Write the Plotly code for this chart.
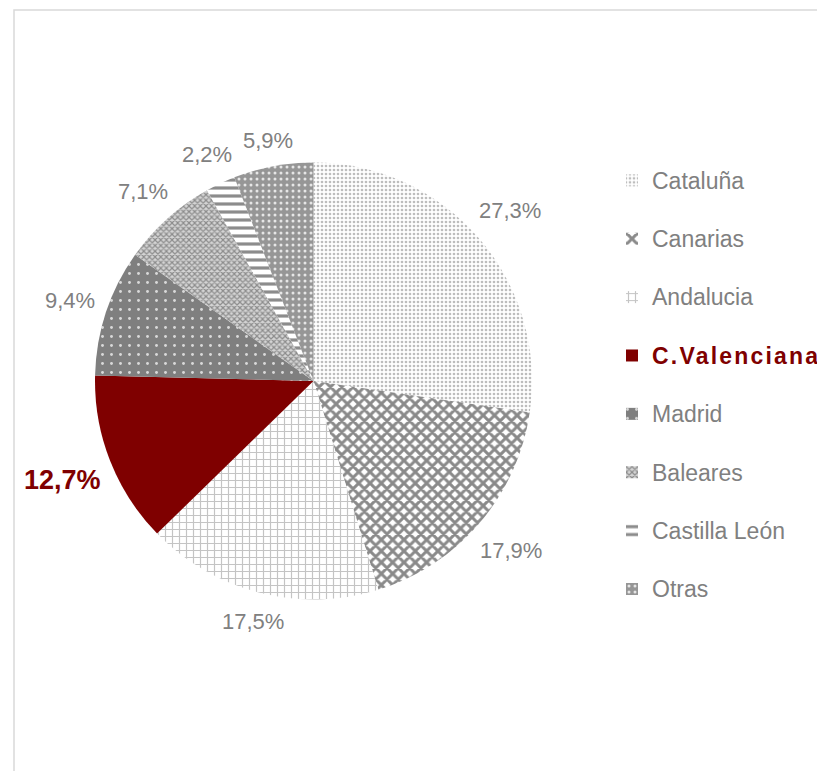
import math
import plotly.graph_objects as go

# ---- data ----
regions = ["Cataluña", "Canarias", "Andalucia", "C.Valenciana", "Madrid",
           "Baleares", "Castilla León", "Otras"]
shares = [27.3, 17.9, 17.5, 12.7, 9.4, 7.1, 2.2, 5.9]
pct_labels = ["27,3%", "17,9%", "17,5%", "12,7%", "9,4%", "7,1%", "2,2%", "5,9%"]
highlight = "C.Valenciana"

# ---- styling ----
W, H = 825, 771
OFF = 8                                   # page body margin
CX, CY, R = 313.5 - OFF, 381.0 - OFF, 218.5   # pie centre / radius in figure px
GRAY_TXT = "#808080"
RED = "#7F0000"

slice_colors = ["#ffffff", "#ffffff", "#ffffff", RED, "#7f7f7f", "#c8c8c8", "#ffffff", "#969696"]
pat_shape = [".", "x", "+", "", ".", "x", "-", "."]
pat_fg = ["#bdbdbd", "#8a8a8a", "#c4c4c4", RED, "#d9d9d9", "#8c8c8c", "#8c8c8c", "#e6e6e6"]
pat_bg = ["#ffffff", "#ffffff", "#ffffff", RED, "#7f7f7f", "#d4d4d4", "#ffffff", "#969696"]
pat_size = [4, 8, 7, 8, 9, 4, 8, 6]
pat_sol = [0.35, 0.6, 0.3, 0.3, 0.08, 0.5, 0.4, 0.2]


def legend_label(name):
    if name == highlight:
        return ("<b><span style='color:%s;font-size:23px;letter-spacing:2.2px'>%s</span></b><br>\u00a0"
                % (RED, name))
    return "<span style='font-size:23px'>%s</span><br>\u00a0" % name


fig = go.Figure()
fig.add_trace(go.Pie(
    labels=[legend_label(r) for r in regions],
    values=shares,
    sort=False,
    direction="clockwise",
    rotation=0,
    textinfo="none",
    hoverinfo="label+percent",
    marker=dict(
        colors=slice_colors,
        line=dict(width=0),
        pattern=dict(shape=pat_shape, fgcolor=pat_fg, bgcolor=pat_bg,
                     size=pat_size, solidity=pat_sol, fillmode="replace"),
    ),
    domain=dict(x=[(CX - R) / W, (CX + R) / W],
                y=[(H - CY - R) / H, (H - CY + R) / H]),
))

# percentage labels placed just outside each slice
char_w = {",": 0.278, "%": 0.889}
total = sum(shares)
cum = 0.0
annotations = []
for name, v, txt in zip(regions, shares, pct_labels):
    mid = (cum + v / 2) / total * 2 * math.pi
    cum += v
    big = name == highlight
    fs = 27 if big else 22
    w = sum(char_w.get(c, 0.556) for c in txt) * fs
    h = fs
    s, c = math.sin(mid), math.cos(mid)
    d = R + 11 + 0.5 * (abs(w * s) + abs(h * c))
    px = CX + d * s
    py = CY - d * c
    annotations.append(dict(
        x=px / W, y=(H - py) / H, xref="paper", yref="paper",
        text=("<b>%s</b>" % txt) if big else txt,
        showarrow=False, xanchor="center", yanchor="middle",
        font=dict(size=fs, color=RED if big else GRAY_TXT,
                  family="Liberation Sans, Arial, sans-serif"),
    ))

fig.update_layout(
    width=W, height=H,
    margin=dict(l=0, r=0, t=0, b=0),
    paper_bgcolor="white",
    plot_bgcolor="white",
    font=dict(family="Liberation Sans, Arial, sans-serif", color=GRAY_TXT),
    annotations=annotations,
    showlegend=True,
    legend=dict(
        x=(612 - OFF) / W, xanchor="left",
        y=(H - 160 + OFF) / H, yanchor="top",
        valign="top",
        font=dict(size=21.3, color=GRAY_TXT, family="Liberation Sans, Arial, sans-serif"),
        bgcolor="rgba(0,0,0,0)",
        borderwidth=0,
        traceorder="normal",
    ),
    shapes=[dict(type="rect", xref="paper", yref="paper",
                 x0=(14 - OFF) / W, x1=1.05, y0=-0.05, y1=(H - 10 + OFF) / H,
                 line=dict(color="#d9d9d9", width=1.5), fillcolor="rgba(0,0,0,0)",
                 layer="below")],
)

fig.write_html("out.html")
